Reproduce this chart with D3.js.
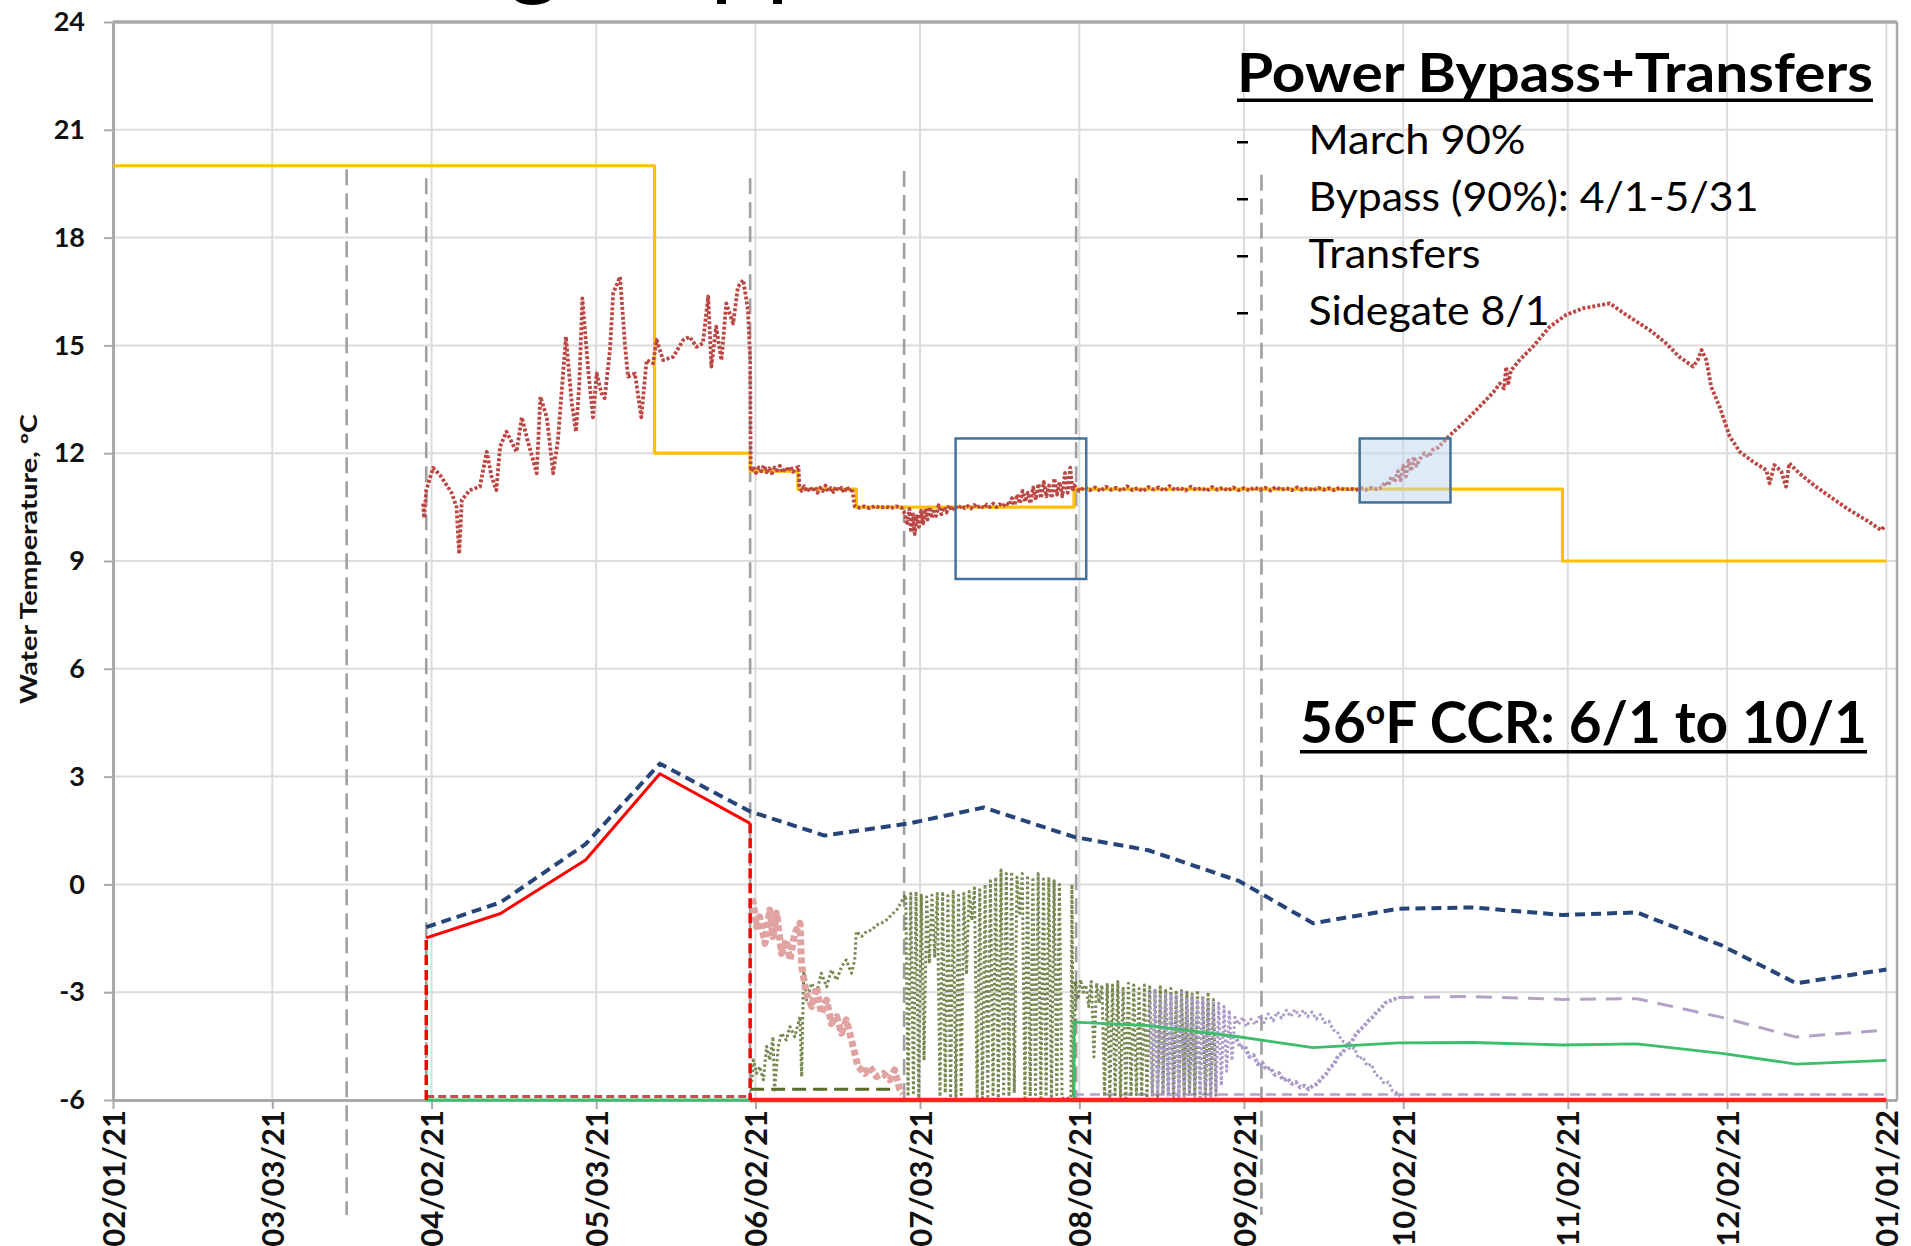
<!DOCTYPE html>
<html><head><meta charset="utf-8">
<script src="https://cdn.jsdelivr.net/npm/d3@7"></script>
<style>body{margin:0;background:#fff}svg{display:block}</style>
</head><body><svg id="c" width="1911" height="1246"></svg>
<script>
// ---------- DATA ----------
const xTickLabels = ["02/01/21","03/03/21","04/02/21","05/03/21","06/02/21","07/03/21","08/02/21","09/02/21","10/02/21","11/02/21","12/02/21","01/01/22"];
const yTicks = [-6,-3,0,3,6,9,12,15,18,21,24];

// Target temperature step line (orange)
const orangeDates = ["2021-02-01","2021-05-14","2021-05-14","2021-06-01","2021-06-01","2021-06-10","2021-06-10","2021-06-21","2021-06-21","2021-08-01","2021-08-01","2021-11-01","2021-11-01","2022-01-01"];
const orangeVals  = [20,20,12,12,11.5,11.5,11,11,10.5,10.5,11,11,9,9];

// Semi-monthly series
const semiDates = ["2021-04-01","2021-04-15","2021-05-01","2021-05-15","2021-06-01","2021-06-15","2021-07-01","2021-07-15","2021-08-01","2021-08-15","2021-09-01","2021-09-15","2021-10-01","2021-10-15","2021-11-01","2021-11-15","2021-12-01","2021-12-15","2022-01-01"];
const blueVals   = [-1.19,-0.5,1.12,3.36,2.03,1.36,1.7,2.14,1.32,0.95,0.1,-1.08,-0.68,-0.64,-0.85,-0.78,-1.7,-2.75,-2.37];
const redVals    = [-1.49,-0.81,0.68,3.08,1.7];                       // Apr 1 .. Jun 1
const greenVals  = [-3.83,-3.93,-4.24,-4.54,-4.41,-4.4,-4.47,-4.44,-4.7,-5.0,-4.9]; // Aug 1 .. Jan 1
const purpleVals = [-3.15,-3.12,-3.2,-3.18,-3.7,-4.25,-4.05];         // Oct 1 .. Jan 1

// zero-flow baselines
const redBaseDates = ["2021-06-01","2022-01-01"],   redBaseVals = [-6,-6];
const greenLeadDates = ["2021-04-01","2021-08-01"], greenLeadVals = [-6,-6];
const redDropDates = ["2021-04-01","2021-04-01","2021-05-01","2021-06-01","2021-06-01"];
const redDropVals  = [-6,-1.49,null,1.7,-6];
const brownBaseDates = ["2021-04-01","2021-06-01"],  brownBaseVals = [-5.9,-5.9];
const oliveBaseDates = ["2021-06-01","2021-06-29"],  oliveBaseVals = [-5.7,-5.7];
const purpleBaseDates = ["2021-08-01","2022-01-01"], purpleBaseVals = [-5.85,-5.85];

// Water temperature (day-of-year 2021, degC)
const tempSeries = [[90.4,10.6],[90.6,10.2],[91,10.97],[92.3,11.59],[93.6,11.39],[95.8,10.89],[96.7,10.5],[97.2,9.2],[97.7,10.7],[99.2,10.97],[101.1,11.07],[102.4,12.04],[103.3,11.35],[104.2,10.97],[104.9,12.18],[106.1,12.6],[108,12.04],[109,13.0],[109.9,12.46],[111.8,11.44],[112.5,13.57],[113.7,13.0],[114.9,11.44],[115.8,12.37],[117.3,15.24],[118.4,13.39],[119.2,12.6],[119.8,13.85],[120.4,16.31],[121.5,14.31],[122.4,13.0],[123.1,14.22],[124,13.67],[124.6,13.53],[125.6,14.87],[126.2,16.45],[127.5,16.91],[128.4,15.06],[129,14.13],[130.3,14.22],[131.5,13.0],[132.5,14.59],[133.7,14.5],[134.4,15.15],[135.6,14.59],[137.5,14.68],[139.4,15.15],[140.6,15.24],[141.9,14.96],[143.1,15.06],[144.1,16.36],[144.7,14.41],[145.6,15.52],[146.6,14.59],[147.5,16.17],[148.8,15.61],[149.7,16.63],[150.7,16.82],[151.6,15.98],[152,14.59],[152.1,11.62],
[152.2,11.5],[152.6,11.62],[153.1,11.45],[153.6,11.6],[154.1,11.5],[154.6,11.66],[155.1,11.47],[155.6,11.58],[156.1,11.44],[156.6,11.6],[157.1,11.52],[157.6,11.65],[158.1,11.46],[158.6,11.6],[159.1,11.5],[159.6,11.63],[160.1,11.48],[160.6,11.58],[161.1,11.62],[161.3,11.05],[161.7,10.95],[162.2,11.08],[162.7,10.92],[163.2,11.05],[163.7,10.94],[164.2,11.06],[164.7,10.9],[165.2,11.04],[165.7,10.95],[166.2,11.1],[166.7,10.93],[167.2,11.03],[167.7,10.92],[168.2,11.07],[168.7,10.95],[169.2,11.04],[169.7,10.9],[170.2,11.06],[170.7,10.94],[171.2,11.02],[171.7,10.52],[172.5,10.48],[173.5,10.52],[174.5,10.47],[175.5,10.53],[176.5,10.48],[177.5,10.51],[178.5,10.47],[179.5,10.52],[180.5,10.49],
[181.2,10.3],[181.6,10.0],[182.0,10.45],[182.3,9.8],[182.7,10.3],[183.0,9.75],[183.4,10.25],[183.8,9.95],[184.2,10.4],[184.6,10.05],[185.0,10.45],[185.4,10.15],[185.8,10.5],[186.2,10.2],[186.6,10.45],[187.0,10.25],[187.5,10.55],[188.0,10.3],[188.5,10.5],[189.0,10.35],[189.5,10.55],[190.0,10.4],
[190.6,10.52],[191.2,10.45],[191.8,10.55],[192.4,10.47],[193.0,10.53],[193.6,10.46],[194.2,10.56],[194.8,10.48],[195.4,10.55],[196.0,10.47],[196.6,10.57],[197.2,10.5],[197.8,10.6],[198.4,10.5],[199.0,10.58],[199.6,10.52],[200.2,10.62],
[200.8,10.55],[201.3,10.75],[201.8,10.55],[202.3,10.85],[202.8,10.6],[203.3,10.95],[203.8,10.65],[204.3,10.9],[204.8,10.6],[205.3,11.05],[205.8,10.7],[206.3,11.15],[206.8,10.75],[207.3,11.2],[207.8,10.8],[208.3,11.1],[208.8,10.75],[209.3,11.3],[209.8,10.85],[210.3,11.2],[210.8,10.8],[211.3,11.45],[211.8,10.9],[212.3,11.6],[212.7,10.95],[213.1,11.1],
[214,10.95],[215,11.06],[216,10.97],[217,11.05],[218,10.94],[219,11.07],[220,10.98],[221,11.04],[222,10.95],[223,11.08],[224,10.97],[225,11.03],[226,10.94],[227,11.06],[228,10.99],[229,11.05],[230,10.95],[231,11.09],[232,10.97],[233,11.04],[234,10.96],[235,11.07],[236,10.98],[237,11.03],[238,10.95],[239,11.06],[240,10.98],[241,11.04],[242,10.96],[243,11.05],[244,10.97],[245,11.03],[246,10.96],[247,11.05],[248,10.98],[249,11.04],[250,10.96],[251,11.06],[252,10.98],[253,11.03],[254,10.97],[255,11.05],[256,10.98],[257,11.03],[258,10.96],[259,11.04],[260,10.98],[261,11.03],[262,10.97],[263,11.04],[264,10.98],[265,11.02],[266,10.97],[267,11.03],[268,10.98],[269,11.04],[270,11.0],
[271,11.05],[271.6,11.2],[272.2,11.1],[272.8,11.35],[273.4,11.2],[274.0,11.5],[274.5,11.25],[275.0,11.65],[275.5,11.35],[276.0,11.8],[276.5,11.5],[277.0,11.9],[277.5,11.65],[278.2,11.85],[279.0,12.0],[279.8,11.9],[280.6,12.1],[281.5,12.15],[282.5,12.3],[283.8,12.5],
[286.9,12.92],[290,13.39],[292,13.7],[293.2,13.94],[294.0,13.8],[294.4,14.4],[294.8,13.95],[295.3,14.3],[296.9,14.59],[299.4,14.96],[302.6,15.52],[305.7,15.85],[308.8,16.03],[313.9,16.17],[317,15.85],[321.4,15.43],[324.5,15.06],[327,14.68],[329.6,14.41],[330.5,14.6],[331.2,14.87],[332.1,14.59],[333,13.85],[334.6,13.29],[336.5,12.46],[338.4,12.04],[340.9,11.76],[343.4,11.53],[344,11.16],[344.9,11.67],[346.2,11.5],[347.1,11.07],[347.7,11.72],[349.6,11.44],[352.7,11.07],[355.9,10.74],[359,10.42],[362.2,10.14],[365,9.86],[365.6,9.95]];

// Olive noisy outlet series
const oliveSeries = [[152.3,-5.5],[152.6,-4.89],[153.2,-5.26],[153.8,-5.07],[154.5,-5.44],[155.1,-4.51],[155.7,-4.89],[156.3,-4.24],[156.6,-5.72],[157.3,-4.51],[157.9,-4.14],[158.8,-4.33],[159.5,-3.96],[160.4,-4.24],[161.4,-3.68],[161.7,-5.35],[162.1,-2.29],[162.6,-3.22],[163.6,-2.75],[164.5,-3.03],[165.4,-2.47],[166.4,-2.85],[167.3,-2.38],[168.3,-2.66],[169.2,-2.29],[170.1,-2.1],[171.1,-2.47],[171.7,-2.1],[172.0,-1.31],[173.0,-1.45],[173.9,-1.31],[174.9,-1.27],[175.8,-1.13],[176.7,-1.08],[177.7,-0.99],[178.6,-0.85],[179.6,-0.71],[180.5,-0.48],[181.1,-0.34],
[181.3,-0.3],[181.75,-5.9],[182.25,-0.25],[182.75,-5.8],[183.25,-0.2],[183.75,-5.95],[184.25,-0.3],[184.75,-4.9],[185.25,-0.35],[185.75,-2.2],[186.25,-0.3],[186.75,-2.0],[187.25,-0.25],[187.75,-5.9],[188.25,-0.2],[188.75,-5.8],[189.25,-0.25],[189.75,-5.95],[190.25,-0.2],[190.75,-5.9],[191.25,-0.3],[191.75,-5.85],[192.25,-0.25],[192.75,-2.5],[193.25,-0.2],[193.75,-1.0],[194.25,-0.1],[194.75,-5.9],[195.25,-0.15],[195.75,-5.95],[196.25,0.0],[196.75,-5.9],[197.25,0.1],[197.75,-5.85],[198.25,0.2],[198.75,-5.95],[199.25,0.4],[199.75,-5.9],[200.25,0.3],[200.75,-5.9],[201.25,0.35],[201.75,-5.8],[202.25,0.2],[202.75,-0.8],[203.25,0.3],[203.75,-5.95],[204.25,0.25],[204.75,-5.9],[205.25,0.2],[205.75,-5.85],[206.25,0.3],[206.75,-5.95],[207.25,0.15],[207.75,-5.9],[208.25,0.2],[208.75,-5.9],[209.25,0.1],[209.75,-5.85],[210.25,0.0],[210.75,-5.95],[211.5,-5.95],[212.4,-5.95],[212.6,0.0],[212.9,-5.9],
[213.25,-2.7],[213.75,-3.2],[214.25,-2.65],[214.75,-3.0],[215.25,-2.8],[215.75,-3.4],[216.25,-2.7],[216.75,-4.8],[217.25,-2.75],[217.75,-3.3],[218.25,-2.8],[218.75,-5.9],[219.25,-2.75],[219.75,-5.9],[220.25,-2.8],[220.75,-5.85],[221.25,-2.7],[221.75,-5.9],[222.25,-2.85],[222.75,-5.95],[223.25,-2.75],[223.75,-5.9],[224.25,-2.8],[224.75,-5.85],[225.25,-2.9],[225.75,-5.9],[226.25,-2.8],[226.75,-5.95],[227.25,-2.85],[227.75,-5.9],[228.25,-2.9],[228.75,-5.9],[229.25,-2.85],[229.75,-5.85],[230.25,-2.95],[230.75,-5.9],[231.25,-2.9],[231.75,-5.95],[232.25,-3.0],[232.75,-5.9],[233.25,-2.95],[233.75,-5.9],[234.25,-3.0],[234.75,-5.85],[235.25,-3.05],[235.75,-5.9],[236.25,-2.95],[236.75,-5.95],[237.25,-3.1],[237.75,-5.9],[238.25,-3.0],[238.75,-5.9],[239.25,-3.2],[239.75,-5.95]];

// Pink noisy outlet series
const pinkSeries = [[152.3,-0.4],[152.6,-0.53],[153.2,-1.17],[153.8,-0.9],[154.8,-1.64],[155.7,-0.71],[156.3,-1.45],[157.0,-0.8],[157.9,-1.92],[158.8,-1.55],[159.5,-2.1],[160.4,-1.36],[161.4,-1.08],[161.7,-2.29],[162.6,-3.03],[163.6,-3.4],[164.5,-2.85],[165.4,-3.59],[166.4,-3.22],[167.3,-3.87],[168.3,-3.68],[169.2,-4.14],[170.1,-3.77],[171.1,-4.33],[171.7,-4.7],[172.3,-5.07],[173.6,-5.26],[174.5,-5.07],[175.8,-5.35],[177.1,-5.26],[178.3,-5.44],[179.2,-5.16],[180.2,-5.72],[180.8,-5.81]];

// Purple noisy outlet series (two traces)
const purpleSeriesA = [[227.25,-3.0],[227.75,-5.9],[228.25,-2.95],[228.75,-5.85],[229.25,-3.1],[229.75,-5.9],[230.25,-3.0],[230.75,-5.9],[231.25,-3.05],[231.75,-5.95],[232.25,-3.1],[232.75,-5.9],[233.25,-3.0],[233.75,-5.9],[234.25,-3.15],[234.75,-5.85],[235.25,-3.1],[235.75,-5.9],[236.25,-3.2],[236.75,-5.95],[237.25,-3.15],[237.75,-5.9],[238.25,-3.25],[238.75,-5.9],[239.25,-3.3],[239.75,-5.8],[240.25,-3.3],[240.75,-5.6],[241.25,-3.4],[241.75,-5.2],[242.25,-3.5],[242.75,-4.9],[243.3,-3.7],
[244.0,-3.9],[244.8,-3.7],[245.5,-3.95],[246.3,-3.75],[247.1,-3.9],[248.0,-3.65],[248.8,-3.85],[249.6,-3.6],[250.5,-3.8],[251.3,-3.55],[252.1,-3.72],[253.0,-3.5],[253.8,-3.68],[254.6,-3.48],[255.4,-3.66],[256.2,-3.5],[257.0,-3.68],[257.8,-3.55],[258.6,-3.75],[259.4,-3.62],[260.2,-3.85],[261.0,-3.8],[261.8,-4.05],[262.6,-4.1],[263.4,-4.35],[264.2,-4.4],[265.0,-4.6],[265.8,-4.55],[266.6,-4.85],[267.4,-4.8],[268.2,-5.05],[269.0,-5.0],[269.8,-5.3],[270.6,-5.35],[271.4,-5.55],[272.2,-5.5],[273.0,-5.75],[273.8,-5.8],[274.5,-5.9]];
const purpleSeriesB = [[243.6,-4.3],[244.4,-4.55],[245.2,-4.5],[246.0,-4.8],[246.8,-4.75],[247.6,-5.0],[248.4,-4.95],[249.2,-5.15],[250.0,-5.1],[250.8,-5.3],[251.6,-5.25],[252.4,-5.45],[253.2,-5.4],[254.0,-5.55],[254.8,-5.5],[255.6,-5.65],[256.4,-5.6],[257.2,-5.7],[258.0,-5.6],[258.8,-5.55],[259.6,-5.4],[260.4,-5.3],[261.2,-5.1],[262.0,-5.0],[262.8,-4.75],[263.6,-4.7],[264.4,-4.45],[265.2,-4.4],[266.0,-4.2],[266.8,-4.05],[267.6,-3.95],[268.4,-3.8],[269.2,-3.7],[270.0,-3.55],[270.8,-3.45],[271.6,-3.3],[272.4,-3.25],[273.2,-3.2],[274.0,-3.15]];

// Operation change markers (day-of-year) and their top value
const markerDoy = [76, 91, 152, 181, 213.4, 248.3];
const markerTop = [19.9, 19.65, 19.65, 19.85, 19.65, 19.75];
const markerBottom = [-9.2, -6, -6, -6, -6, -9.2];

// Highlight boxes (day-of-year, degC)
const boxStart = [190.7, 266.8], boxEnd = [215.3, 283.9];
const boxTop = [12.41, 12.41], boxBottom = [8.5, 10.63];

// Annotation texts
const titleText = "Power Bypass+Transfers";
const bulletTexts = ["March 90%","Bypass (90%): 4/1-5/31","Transfers","Sidegate 8/1"];
const ccrText = ["56","o","F CCR: 6/1 to 10/1"];
const yTitle = "Water Temperature, ºC";

// ---------- CHART ----------
const svg = d3.select("#c");
const parse = d3.timeParse("%Y-%m-%d");
const parseTick = d3.timeParse("%m/%d/%y");
const D0 = new Date(2021,0,1).getTime();
const doyDate = d => new Date(D0 + (d-1)*864e5);

const x = d3.scaleTime().domain([new Date(2021,1,1), new Date(2022,0,3)]).range([113,1897]);
const y = d3.scaleLinear().domain([-6,24]).range([1100,22]);
const tickDates = xTickLabels.map(parseTick);
const FONT = "Lato, 'Open Sans', sans-serif";

// top clipped slide title fragments
svg.append("text").attr("x",508).attr("y",-13).attr("font-family",FONT).attr("font-size",100).attr("fill","#000").text("g");
svg.append("text").attr("x",710).attr("y",-13).attr("font-family",FONT).attr("font-size",100).attr("fill","#000").text("pp");

// gridlines
const grid = svg.append("g");
grid.selectAll("line.h").data(yTicks).join("line")
  .attr("x1",113).attr("x2",1897).attr("y1",d=>y(d)).attr("y2",d=>y(d))
  .attr("stroke","#dcdcdc").attr("stroke-width",2);
grid.selectAll("line.v").data(tickDates).join("line")
  .attr("x1",d=>x(d)).attr("x2",d=>x(d)).attr("y1",y(24)).attr("y2",y(-6))
  .attr("stroke","#dcdcdc").attr("stroke-width",2);

// border top/right
svg.append("line").attr("x1",113).attr("x2",1897).attr("y1",y(24)).attr("y2",y(24)).attr("stroke","#a9a9a9").attr("stroke-width",3.5);
svg.append("line").attr("x1",1897).attr("x2",1897).attr("y1",y(24)).attr("y2",y(-6)).attr("stroke","#a9a9a9").attr("stroke-width",2.5);

// axes
const yAxis = svg.append("g").attr("transform","translate(113,0)")
  .call(d3.axisLeft(y).tickValues(yTicks).tickSize(9).tickSizeOuter(0).tickPadding(19).tickFormat(d=>String(d)));
yAxis.select(".domain").attr("stroke","#a9a9a9").attr("stroke-width",3);
yAxis.selectAll(".tick line").attr("stroke","#a9a9a9").attr("stroke-width",2);
yAxis.selectAll(".tick text").attr("font-family",FONT).attr("font-weight",700).attr("font-size",27).attr("fill","#111");

const xAxis = svg.append("g").attr("transform",`translate(0,${y(-6)})`)
  .call(d3.axisBottom(x).tickValues(tickDates).tickSize(9).tickSizeOuter(0).tickFormat((d,i)=>xTickLabels[i]));
xAxis.select(".domain").attr("stroke","#a9a9a9").attr("stroke-width",3);
xAxis.selectAll(".tick line").attr("stroke","#a9a9a9").attr("stroke-width",2);
xAxis.selectAll(".tick text").attr("font-family",FONT).attr("font-weight",700).attr("font-size",31).attr("fill","#111")
  .attr("transform","rotate(-90)").attr("x",-10).attr("y",0).attr("dy","0.36em").style("text-anchor","end");

// y title
svg.append("text").attr("transform","translate(28,559) rotate(-90)")
  .attr("text-anchor","middle").attr("dominant-baseline","central")
  .attr("font-family",FONT).attr("font-weight",700).attr("font-size",22).attr("fill","#111")
  .attr("textLength",290).attr("lengthAdjust","spacingAndGlyphs").text(yTitle);

// marker dashed verticals
svg.append("g").selectAll("line").data(markerDoy).join("line")
  .attr("x1",d=>x(doyDate(d))).attr("x2",d=>x(doyDate(d)))
  .attr("y1",(d,i)=>y(markerTop[i])).attr("y2",(d,i)=>y(markerBottom[i]))
  .attr("stroke","#a0a0a0").attr("stroke-width",2.6).attr("stroke-dasharray","16,8");

const line = d3.line().defined(d=>d[1]!=null).x(d=>x(d[0])).y(d=>y(d[1]));
const fromStr = (ds,vs) => ds.map((d,i)=>[parse(d),vs[i]]);
const fromDoy = arr => arr.map(p=>[doyDate(p[0]),p[1]]);
function draw(data, color, width, dash, opts={}) {
  const p = svg.append("path").datum(data).attr("d",line).attr("fill","none")
    .attr("stroke",color).attr("stroke-width",width).attr("stroke-linejoin","round");
  if (dash) p.attr("stroke-dasharray",dash);
  if (opts.opacity) p.attr("stroke-opacity",opts.opacity);
  if (opts.cap) p.attr("stroke-linecap",opts.cap);
  return p;
}

// baselines
draw(fromStr(brownBaseDates,brownBaseVals),"#c0504d",3,"8,4");
draw(fromStr(oliveBaseDates,oliveBaseVals),"#5a6e2c",3,"14,7");
draw(fromStr(purpleBaseDates,purpleBaseVals),"#b3a2c7",2.5,"10,6");

// orange target
draw(fromStr(orangeDates,orangeVals),"#ffc000",3.2,null);
// water temperature
draw(fromDoy(tempSeries),"#bb4744",3.8,"3,2");
// outlet series
draw(fromDoy(oliveSeries),"#5f7432",3,"2.5,2.5",{opacity:0.85});
draw(fromDoy(pinkSeries),"#e0a3a1",7,"6,3");
draw(fromDoy(purpleSeriesA),"#ab9bc9",3,"2.5,2.5");
draw(fromDoy(purpleSeriesB),"#ab9bc9",4,"3,2");
// green
draw(fromStr(greenLeadDates,greenLeadVals).concat(fromStr(semiDates.slice(8),greenVals)),"#3bbf6b",2.8,null);
// purple dashed semi-monthly
draw(fromStr(semiDates.slice(12),purpleVals),"#b3a2c7",3,"16,10");
// blue dashed
draw(fromStr(semiDates,blueVals),"#264478",4,"10,6");
// red
draw(fromStr(semiDates.slice(0,5),redVals),"#ff0000",3,null);
draw(fromStr(redBaseDates,redBaseVals),"#ff2020",4.5,null);
draw(fromStr(redDropDates,redDropVals),"#ff0000",3.5,"10,5");

// highlight boxes
svg.append("g").selectAll("rect").data(boxStart).join("rect")
  .attr("x",(d)=>x(doyDate(d))).attr("y",(d,i)=>y(boxTop[i]))
  .attr("width",(d,i)=>x(doyDate(boxEnd[i]))-x(doyDate(d)))
  .attr("height",(d,i)=>y(boxBottom[i])-y(boxTop[i]))
  .attr("fill",(d,i)=> i===1 ? "rgba(189,215,238,0.5)" : "none")
  .attr("stroke","#41719c").attr("stroke-width",2.5);

// annotations
svg.append("text").attr("x",1237).attr("y",92).attr("font-family",FONT).attr("font-weight",700)
  .attr("font-size",53).attr("fill","#000").attr("textLength",636).attr("lengthAdjust","spacingAndGlyphs").text(titleText);
svg.append("rect").attr("x",1237).attr("y",98.5).attr("width",636).attr("height",3.5).attr("fill","#000");

const bulletY = [154, 211, 268, 325];
const bulletW = [217, 450, 172, 241];
bulletTexts.forEach((t,i)=>{
  svg.append("rect").attr("x",1237).attr("y",bulletY[i]-13).attr("width",11).attr("height",2.5).attr("fill","#000");
  svg.append("text").attr("x",1308.5).attr("y",bulletY[i]).attr("font-family",FONT).attr("font-size",40)
    .attr("fill","#000").attr("textLength",bulletW[i]).attr("lengthAdjust","spacingAndGlyphs").text(t);
});

const ccr = svg.append("text").attr("x",1300).attr("y",743).attr("font-family",FONT).attr("font-weight",700)
  .attr("font-size",57).attr("fill","#000").attr("textLength",567).attr("lengthAdjust","spacingAndGlyphs");
ccr.append("tspan").text(ccrText[0]);
ccr.append("tspan").attr("font-size",34).attr("dy",-19).text(ccrText[1]);
ccr.append("tspan").attr("dy",19).text(ccrText[2]);
svg.append("rect").attr("x",1300).attr("y",750).attr("width",567).attr("height",3.5).attr("fill","#000");
</script></body></html>
